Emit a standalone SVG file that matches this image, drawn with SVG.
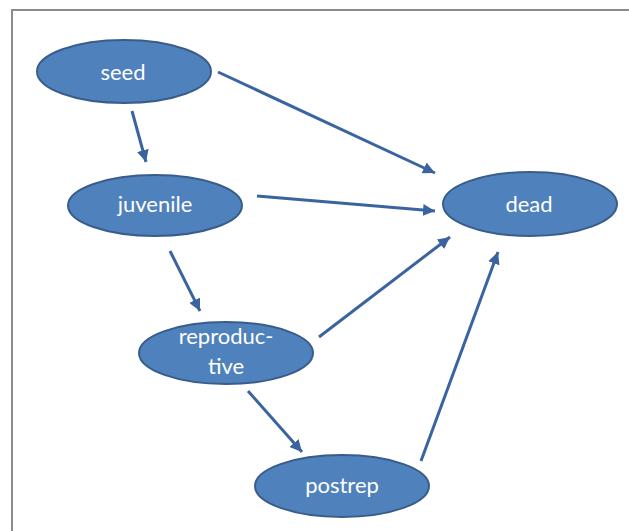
<svg xmlns="http://www.w3.org/2000/svg" width="629" height="531" viewBox="0 0 629 531">
<defs>
<marker id="ah" viewBox="0 0 10 10" refX="10" refY="5" markerWidth="4" markerHeight="4" orient="auto" markerUnits="strokeWidth">
<path d="M0,0 L10,5 L0,10 z" fill="#3a64a0"/>
</marker>
<style>
.node ellipse{fill:#4f81bd;stroke:#385d8a;stroke-width:2}
.node text{fill:#ffffff;font-family:Lato,"Open Sans","Liberation Sans",sans-serif;font-size:22px;text-anchor:middle}
#edges line{stroke:#3a64a0;stroke-width:3;marker-end:url(#ah)}
</style>
</defs>
<rect width="629" height="531" fill="#ffffff"/>
<path d="M12,531 V10 H629" fill="none" stroke="#8c8c8c" stroke-width="2"/>
<g id="edges">
<line x1="218" y1="72" x2="435" y2="173"/>
<line x1="132" y1="111" x2="146" y2="162"/>
<line x1="257" y1="196" x2="435" y2="211"/>
<line x1="170" y1="251" x2="200" y2="311"/>
<line x1="319" y1="337" x2="450" y2="237"/>
<line x1="248" y1="391" x2="302" y2="452"/>
<line x1="421" y1="461" x2="498" y2="252"/>
</g>
<g id="seed" class="node"><ellipse cx="124" cy="71.5" rx="87" ry="31.5"/><text x="123" y="80">seed</text></g>
<g id="juvenile" class="node"><ellipse cx="155" cy="205.5" rx="87" ry="30.5"/><text x="155" y="212">juvenile</text></g>
<g id="reproductive" class="node"><ellipse cx="226" cy="353" rx="87" ry="31"/><text x="226" y="344">reproduc-</text><text x="226" y="374">tive</text></g>
<g id="postrep" class="node"><ellipse cx="342" cy="486" rx="87" ry="31"/><text x="342" y="493">postrep</text></g>
<g id="dead" class="node"><ellipse cx="530" cy="204" rx="87" ry="32"/><text x="529" y="212">dead</text></g>
</svg>
